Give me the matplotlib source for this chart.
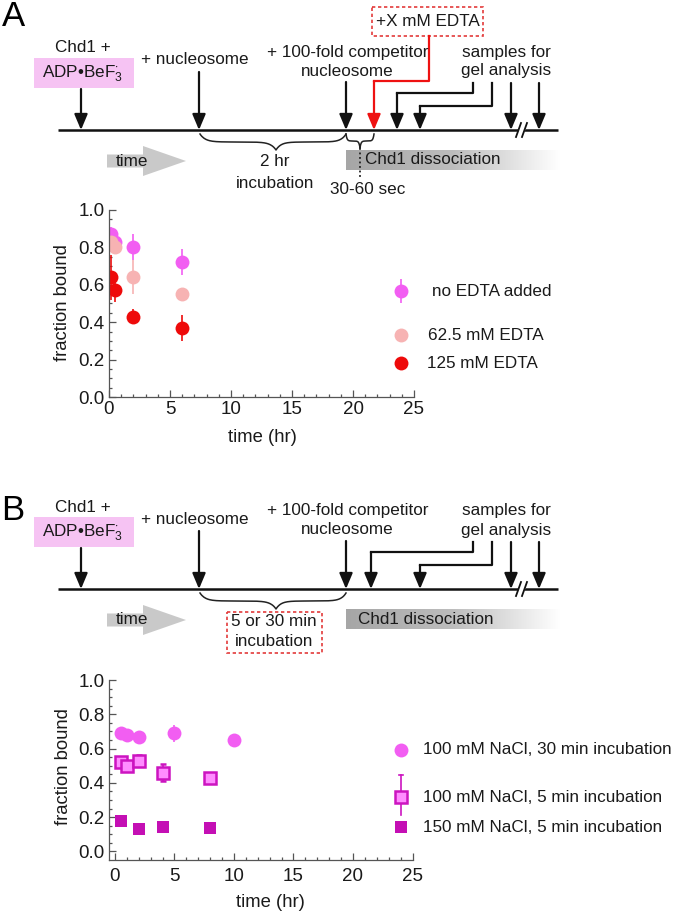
import numpy as np
import matplotlib.pyplot as plt
from matplotlib import patches
from matplotlib.colors import LinearSegmentedColormap

plt.rcParams['font.family'] = ['Liberation Sans', 'DejaVu Sans']
plt.rcParams['mathtext.fontset'] = 'custom'
plt.rcParams['mathtext.rm'] = 'Liberation Sans'
plt.rcParams['mathtext.it'] = 'Liberation Sans:italic'
plt.rcParams['mathtext.bf'] = 'Liberation Sans:bold'

# ---- data, panel A (EDTA chase) ----
edta_labels = ['no EDTA added', '62.5 mM EDTA', '125 mM EDTA']
edta_colors = ['#f25ef2', '#f7b3b3', '#ee0a0a']
t_edta = [0.17, 0.5, 2, 6]
frac_no_edta = [0.87, 0.83, 0.80, 0.72]
err_no_edta = [0.04, 0.03, 0.07, 0.07]
frac_62 = [0.83, 0.80, 0.64, 0.55]
err_62 = [0.04, 0.03, 0.09, 0.0]
frac_125 = [0.64, 0.57, 0.43, 0.37]
err_125 = [0.12, 0.06, 0.04, 0.07]

# ---- data, panel B (NaCl / incubation time) ----
nacl_labels = ['100 mM NaCl, 30 min incubation',
               '100 mM NaCl, 5 min incubation',
               '150 mM NaCl, 5 min incubation']
t_30min = [0.5, 1, 2, 5, 10]
frac_30min = [0.69, 0.68, 0.67, 0.69, 0.65]
err_30min = [0.01, 0.01, 0.02, 0.05, 0.0]
t_5min = [0.5, 1, 2, 4, 8]
frac_5min = [0.52, 0.50, 0.53, 0.46, 0.43]
err_5min = [0.03, 0.03, 0.03, 0.05, 0.03]
t_150 = [0.5, 2, 4, 8]
frac_150 = [0.18, 0.13, 0.145, 0.135]
err_150 = [0.01, 0.01, 0.02, 0.01]

TXT = '#1a1a1a'
FS = 12.3
FS_AX = 13.3
MAG = '#f25ef2'
OPEN_FACE = '#ff8cff'
OPEN_EDGE = '#cc14c0'
DARK_MAG = '#c40fb4'

fig = plt.figure(figsize=(6.93, 9.13), dpi=100)

# overlay in pixel coordinates for the schematics and legends
sk = fig.add_axes([0, 0, 1, 1])
sk.set_xlim(0, 693)
sk.set_ylim(913, 0)
sk.axis('off')


def down_arrow(x, y0, y1, color='#111111'):
    sk.annotate('', xy=(x, y1), xytext=(x, y0),
                arrowprops=dict(arrowstyle='-|>,head_length=0.95,head_width=0.4',
                                color=color, lw=1.6, shrinkA=0, shrinkB=0,
                                mutation_scale=10))


def brace(x0, x1, y0, h, tip=None):
    if tip is None:
        tip = (x0 + x1) / 2
    xs, ys = [], []
    L = tip - x0
    u = np.linspace(0, L, 80)
    yl = h / 2 * (1 - np.exp(-u / (0.07 * L))) + h / 2 * np.exp(-(L - u) / (0.07 * L))
    xs.extend(x0 + u)
    ys.extend(y0 + yl)
    R = x1 - tip
    u = np.linspace(0, R, 80)
    yr = h / 2 * (1 - np.exp(-u / (0.07 * R))) + h / 2 * np.exp(-(R - u) / (0.07 * R))
    xs.extend((x1 - u)[::-1])
    ys.extend((y0 + yr)[::-1])
    sk.plot(xs, ys, color='#222222', lw=1.1)


gray_cmap = LinearSegmentedColormap.from_list('g', ['#a6a6a6', '#bdbdbd', '#ffffff'])


def scheme(dy, edta):
    ly = 130 + dy
    sk.plot([58, 558], [ly, ly], color='#111111', lw=1.8, solid_capstyle='butt')
    # axis break
    sk.add_patch(patches.Polygon([[517, ly + 7], [522, ly - 7], [527, ly - 7], [522, ly + 7]],
                                 color='white', zorder=3))
    sk.plot([516, 521], [ly + 7, ly - 7], color='#111111', lw=1.3, zorder=4)
    sk.plot([522, 527], [ly + 7, ly - 7], color='#111111', lw=1.3, zorder=4)

    # reagent labels
    sk.add_patch(patches.Rectangle((34, 58 + dy), 100, 30, color='#f6c3f3', lw=0))
    sk.text(83, 48 + dy, 'Chd1 +', ha='center', va='center', fontsize=FS, color=TXT)
    sk.text(83, 74 + dy, r'ADP•BeF$_{3}^{\cdot}$', ha='center', va='center', fontsize=FS, color=TXT)
    down_arrow(81, 89 + dy, ly)
    sk.text(195, 60 + dy, '+ nucleosome', ha='center', va='center', fontsize=FS, color=TXT)
    down_arrow(199, 72 + dy, ly)
    sk.text(348, 52 + dy, '+ 100-fold competitor', ha='center', va='center', fontsize=FS, color=TXT)
    sk.text(347, 71 + dy, 'nucleosome', ha='center', va='center', fontsize=FS, color=TXT)
    down_arrow(346, 82 + dy, ly)
    sk.text(506, 52 + dy, 'samples for', ha='center', va='center', fontsize=FS, color=TXT)
    sk.text(506, 71 + dy, 'gel analysis', ha='center', va='center', fontsize=FS, color=TXT)

    # sample arrows
    first_x = 397 if edta else 371
    sk.plot([473, 473, first_x], [83 + dy, 93 + dy, 93 + dy], color='#111111', lw=1.6)
    down_arrow(first_x, 93 + dy, ly)
    sk.plot([492, 492, 420], [83 + dy, 106 + dy, 106 + dy], color='#111111', lw=1.6)
    down_arrow(420, 106 + dy, ly)
    down_arrow(511, 83 + dy, ly)
    down_arrow(539, 83 + dy, ly)

    # time arrow
    sk.add_patch(patches.FancyArrow(107, 161 + dy, 79, 0, width=13, head_width=30,
                                    head_length=43, length_includes_head=True,
                                    color='#c9c9c9', lw=0))
    sk.text(116, 161 + dy, 'time', ha='left', va='center', fontsize=FS, color=TXT)

    # dissociation gradient
    grad = np.linspace(0, 1, 256)[None, :]
    sk.imshow(grad, extent=(346, 560, 170 + dy, 150 + dy), cmap=gray_cmap,
              aspect='auto', zorder=1)
    sk.text(365 if edta else 358, 160 + dy, 'Chd1 dissociation', ha='left', va='center',
            fontsize=FS, color=TXT, zorder=3)

    brace(200, 346, ly + 4, 16, tip=276)
    if edta:
        sk.add_patch(patches.Rectangle((372, 7), 111, 29, fill=False, ec='#e33b3b',
                                       ls=(0, (2, 1.6)), lw=1.2))
        sk.text(428, 22, '+X mM EDTA', ha='center', va='center', fontsize=FS, color=TXT)
        sk.plot([429, 429, 374], [36, 81, 81], color='#ee1111', lw=1.6)
        down_arrow(374, 81, ly, color='#ee1111')
        brace(346, 374, ly + 4, 14, tip=360)
        sk.plot([360, 360], [ly + 18, ly + 48], color='#222222', lw=1.3, ls=(0, (1, 1.5)), zorder=4)
        sk.text(275, 162, '2 hr', ha='center', va='center', fontsize=FS, color=TXT)
        sk.text(275, 183, 'incubation', ha='center', va='center', fontsize=FS, color=TXT)
        sk.text(368, 189, '30-60 sec', ha='center', va='center', fontsize=FS, color=TXT)
    else:
        sk.add_patch(patches.Rectangle((227, 612), 95, 41, fill=False, ec='#e33b3b',
                                       ls=(0, (2, 1.6)), lw=1.2))
        sk.text(274, 621, '5 or 30 min', ha='center', va='center', fontsize=FS, color=TXT)
        sk.text(274, 642, 'incubation', ha='center', va='center', fontsize=FS, color=TXT)


scheme(0, True)
scheme(459, False)
sk.set_xlim(0, 693)
sk.set_ylim(913, 0)

sk.text(13, 17, 'A', ha='center', va='center', fontsize=25, color='#000000')
sk.text(13, 510, 'B', ha='center', va='center', fontsize=25, color='#000000')


def style(ax):
    ax.set_facecolor('none')
    for s in ['top', 'right']:
        ax.spines[s].set_visible(False)
    for s in ['left', 'bottom']:
        ax.spines[s].set_color('#555555')
        ax.spines[s].set_linewidth(0.9)
    ax.tick_params(which='both', direction='in', colors='#555555', labelcolor=TXT,
                   labelsize=13.5, width=0.9)
    ax.tick_params(which='major', length=5, pad=3)
    ax.tick_params(which='minor', length=2.5)
    ax.set_xticks(np.arange(0, 26, 5))
    ax.set_xticks(np.arange(0, 26, 1), minor=True)
    ax.set_yticks(np.arange(0, 1.01, 0.2))
    ax.set_yticklabels(['%.1f' % v for v in np.arange(0, 1.01, 0.2)])
    ax.set_yticks(np.arange(0, 1.01, 0.05), minor=True)


# ---- panel A plot ----
axA = fig.add_axes([109 / 693, (913 - 397) / 913, 305 / 693, 187 / 913])
style(axA)
axA.set_xlim(0, 25)
axA.set_ylim(0, 1.0)
for y, e, c in zip([frac_no_edta, frac_62, frac_125], [err_no_edta, err_62, err_125], edta_colors):
    axA.errorbar(t_edta, y, yerr=e, fmt='o', color=c, ms=10, elinewidth=1.2,
                 capsize=2, capthick=1.2, mew=0)
axA.set_xlabel('time (hr)', fontsize=FS_AX, color=TXT)
axA.xaxis.set_label_coords((262 - 109) / 305, (397 - 437) / 187)
axA.xaxis.label.set_va('center')
axA.set_ylabel('fraction bound', fontsize=FS_AX, color=TXT)
axA.yaxis.set_label_coords((63 - 109) / 305, (397 - 303) / 187)
axA.yaxis.label.set_va('center')

# legend A
sk.errorbar([401], [291], yerr=[12], fmt='o', color=edta_colors[0], ms=10,
            elinewidth=1.2, capsize=2, capthick=1.2, mew=0)
sk.plot([401], [335], 'o', color=edta_colors[1], ms=10, mew=0)
sk.errorbar([401], [363], yerr=[6], fmt='o', color=edta_colors[2], ms=10,
            elinewidth=1.2, capsize=2, capthick=1.2, mew=0)
for yy, xx, lab in zip([291, 335, 363], [432, 428, 427], edta_labels):
    sk.text(xx, yy, lab, ha='left', va='center', fontsize=FS, color=TXT)

# ---- panel B plot ----
axB = fig.add_axes([109 / 693, (913 - 860) / 913, 303.5 / 693, 180 / 913])
style(axB)
axB.set_xlim(-0.5, 25)
axB.set_ylim(-0.05, 1.0)
axB.tick_params(axis='x', which='major', pad=6)
axB.errorbar(t_30min, frac_30min, yerr=err_30min, fmt='o', color=MAG, ms=10,
             elinewidth=1.2, capsize=2, capthick=1.2, mew=0)
axB.errorbar(t_5min, frac_5min, yerr=err_5min, fmt='s', color=OPEN_EDGE, mfc=OPEN_FACE,
             mec=OPEN_EDGE, ms=8.5, mew=1.8, elinewidth=1.2, capsize=2, capthick=1.2)
axB.errorbar(t_150, frac_150, yerr=err_150, fmt='s', color=DARK_MAG, ms=9, mew=0,
             elinewidth=1.2, capsize=2, capthick=1.2)
axB.set_xlabel('time (hr)', fontsize=FS_AX, color=TXT)
axB.xaxis.set_label_coords((270 - 109) / 303.5, (860 - 902) / 180)
axB.xaxis.label.set_va('center')
axB.set_ylabel('fraction bound', fontsize=FS_AX, color=TXT)
axB.yaxis.set_label_coords((63 - 109) / 303.5, (860 - 767) / 180)
axB.yaxis.label.set_va('center')

# legend B
sk.plot([401], [750], 'o', color=MAG, ms=10, mew=0)
sk.plot([401, 401], [775, 815], color=OPEN_EDGE, lw=1.2)
sk.plot([399, 403], [775, 775], color=OPEN_EDGE, lw=1.2)
sk.plot([401], [797], 's', mfc=OPEN_FACE, mec=OPEN_EDGE, ms=8, mew=1.8)
sk.plot([401], [827], 's', color=DARK_MAG, ms=9, mew=0)
for yy, lab in zip([750, 797, 827], nacl_labels):
    sk.text(423, yy, lab, ha='left', va='center', fontsize=FS, color=TXT)

fig.savefig('out.png', dpi=100)
